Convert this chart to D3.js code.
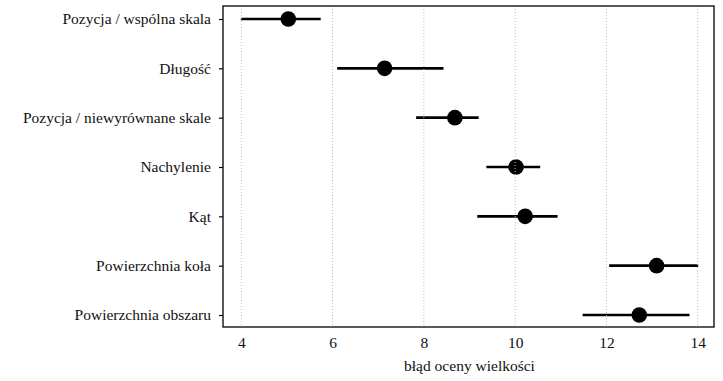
<!DOCTYPE html>
<html><head><meta charset="utf-8">
<script src="https://cdn.jsdelivr.net/npm/d3@7"></script>
<style>body{margin:0;background:#fff}svg{display:block}svg text{font-family:'Liberation Serif',serif}</style>
</head><body><svg id="c" width="723" height="381"></svg>
<script>
const categories = ["Pozycja / wspólna skala","Długość","Pozycja / niewyrównane skale","Nachylenie","Kąt","Powierzchnia koła","Powierzchnia obszaru"];
const means = [5.03, 7.14, 8.68, 10.02, 10.22, 13.10, 12.72];
const lows  = [3.99, 6.10, 7.83, 9.37, 9.17, 12.06, 11.48];
const highs = [5.74, 8.43, 9.20, 10.55, 10.93, 14.01, 13.82];
const xTicks = [4, 6, 8, 10, 12, 14];
const xTitle = "błąd oceny wielkości";

const FONT = "'Liberation Serif', serif";
const svg = d3.select("#c");
const L = 223, R = 714, T = 6, B = 327;
const x = d3.scaleLinear().domain([4, 14]).range([241.3, 697.7]);
const y = d3.scalePoint().domain(categories).range([19, 315]);

const g = svg.append("g");
g.selectAll("line.err").data(categories).join("line")
  .attr("x1", (d,i) => x(lows[i])).attr("x2", (d,i) => x(highs[i]))
  .attr("y1", d => y(d)).attr("y2", d => y(d))
  .attr("stroke", "#000").attr("stroke-width", 2.6);
g.selectAll("circle").data(categories).join("circle")
  .attr("cx", (d,i) => x(means[i])).attr("cy", d => y(d)).attr("r", 7.8).attr("fill", "#000");
g.selectAll("line.grid").data(xTicks).join("line")
  .attr("x1", d => x(d)).attr("x2", d => x(d)).attr("y1", T).attr("y2", B)
  .attr("stroke", "#bbb").attr("stroke-width", 1).attr("stroke-dasharray", "1,2");
svg.append("rect").attr("x", L).attr("y", T).attr("width", R - L).attr("height", B - T)
  .attr("fill", "none").attr("stroke", "#000").attr("stroke-width", 1.3);
const ya = svg.append("g").attr("transform", `translate(${L},0)`)
  .call(d3.axisLeft(y).tickSize(4).tickPadding(8));
ya.attr("font-family", FONT).attr("font-size", 15.5);
ya.select(".domain").remove();
ya.selectAll("text").attr("dy", "0.32em").attr("fill", "#111");
ya.selectAll("line").attr("stroke-width", 1.2);
const xa = svg.append("g").attr("transform", `translate(0,${B})`)
  .call(d3.axisBottom(x).tickValues(xTicks).tickSize(0).tickPadding(10));
xa.attr("font-family", FONT).attr("font-size", 15.5);
xa.select(".domain").remove();
xa.selectAll("text").attr("fill", "#111");
svg.append("text").attr("x", x(9)).attr("y", 371).attr("text-anchor", "middle")
  .attr("font-family", FONT).attr("font-size", 15.5).attr("fill", "#111")
  .text(xTitle);
</script></body></html>
